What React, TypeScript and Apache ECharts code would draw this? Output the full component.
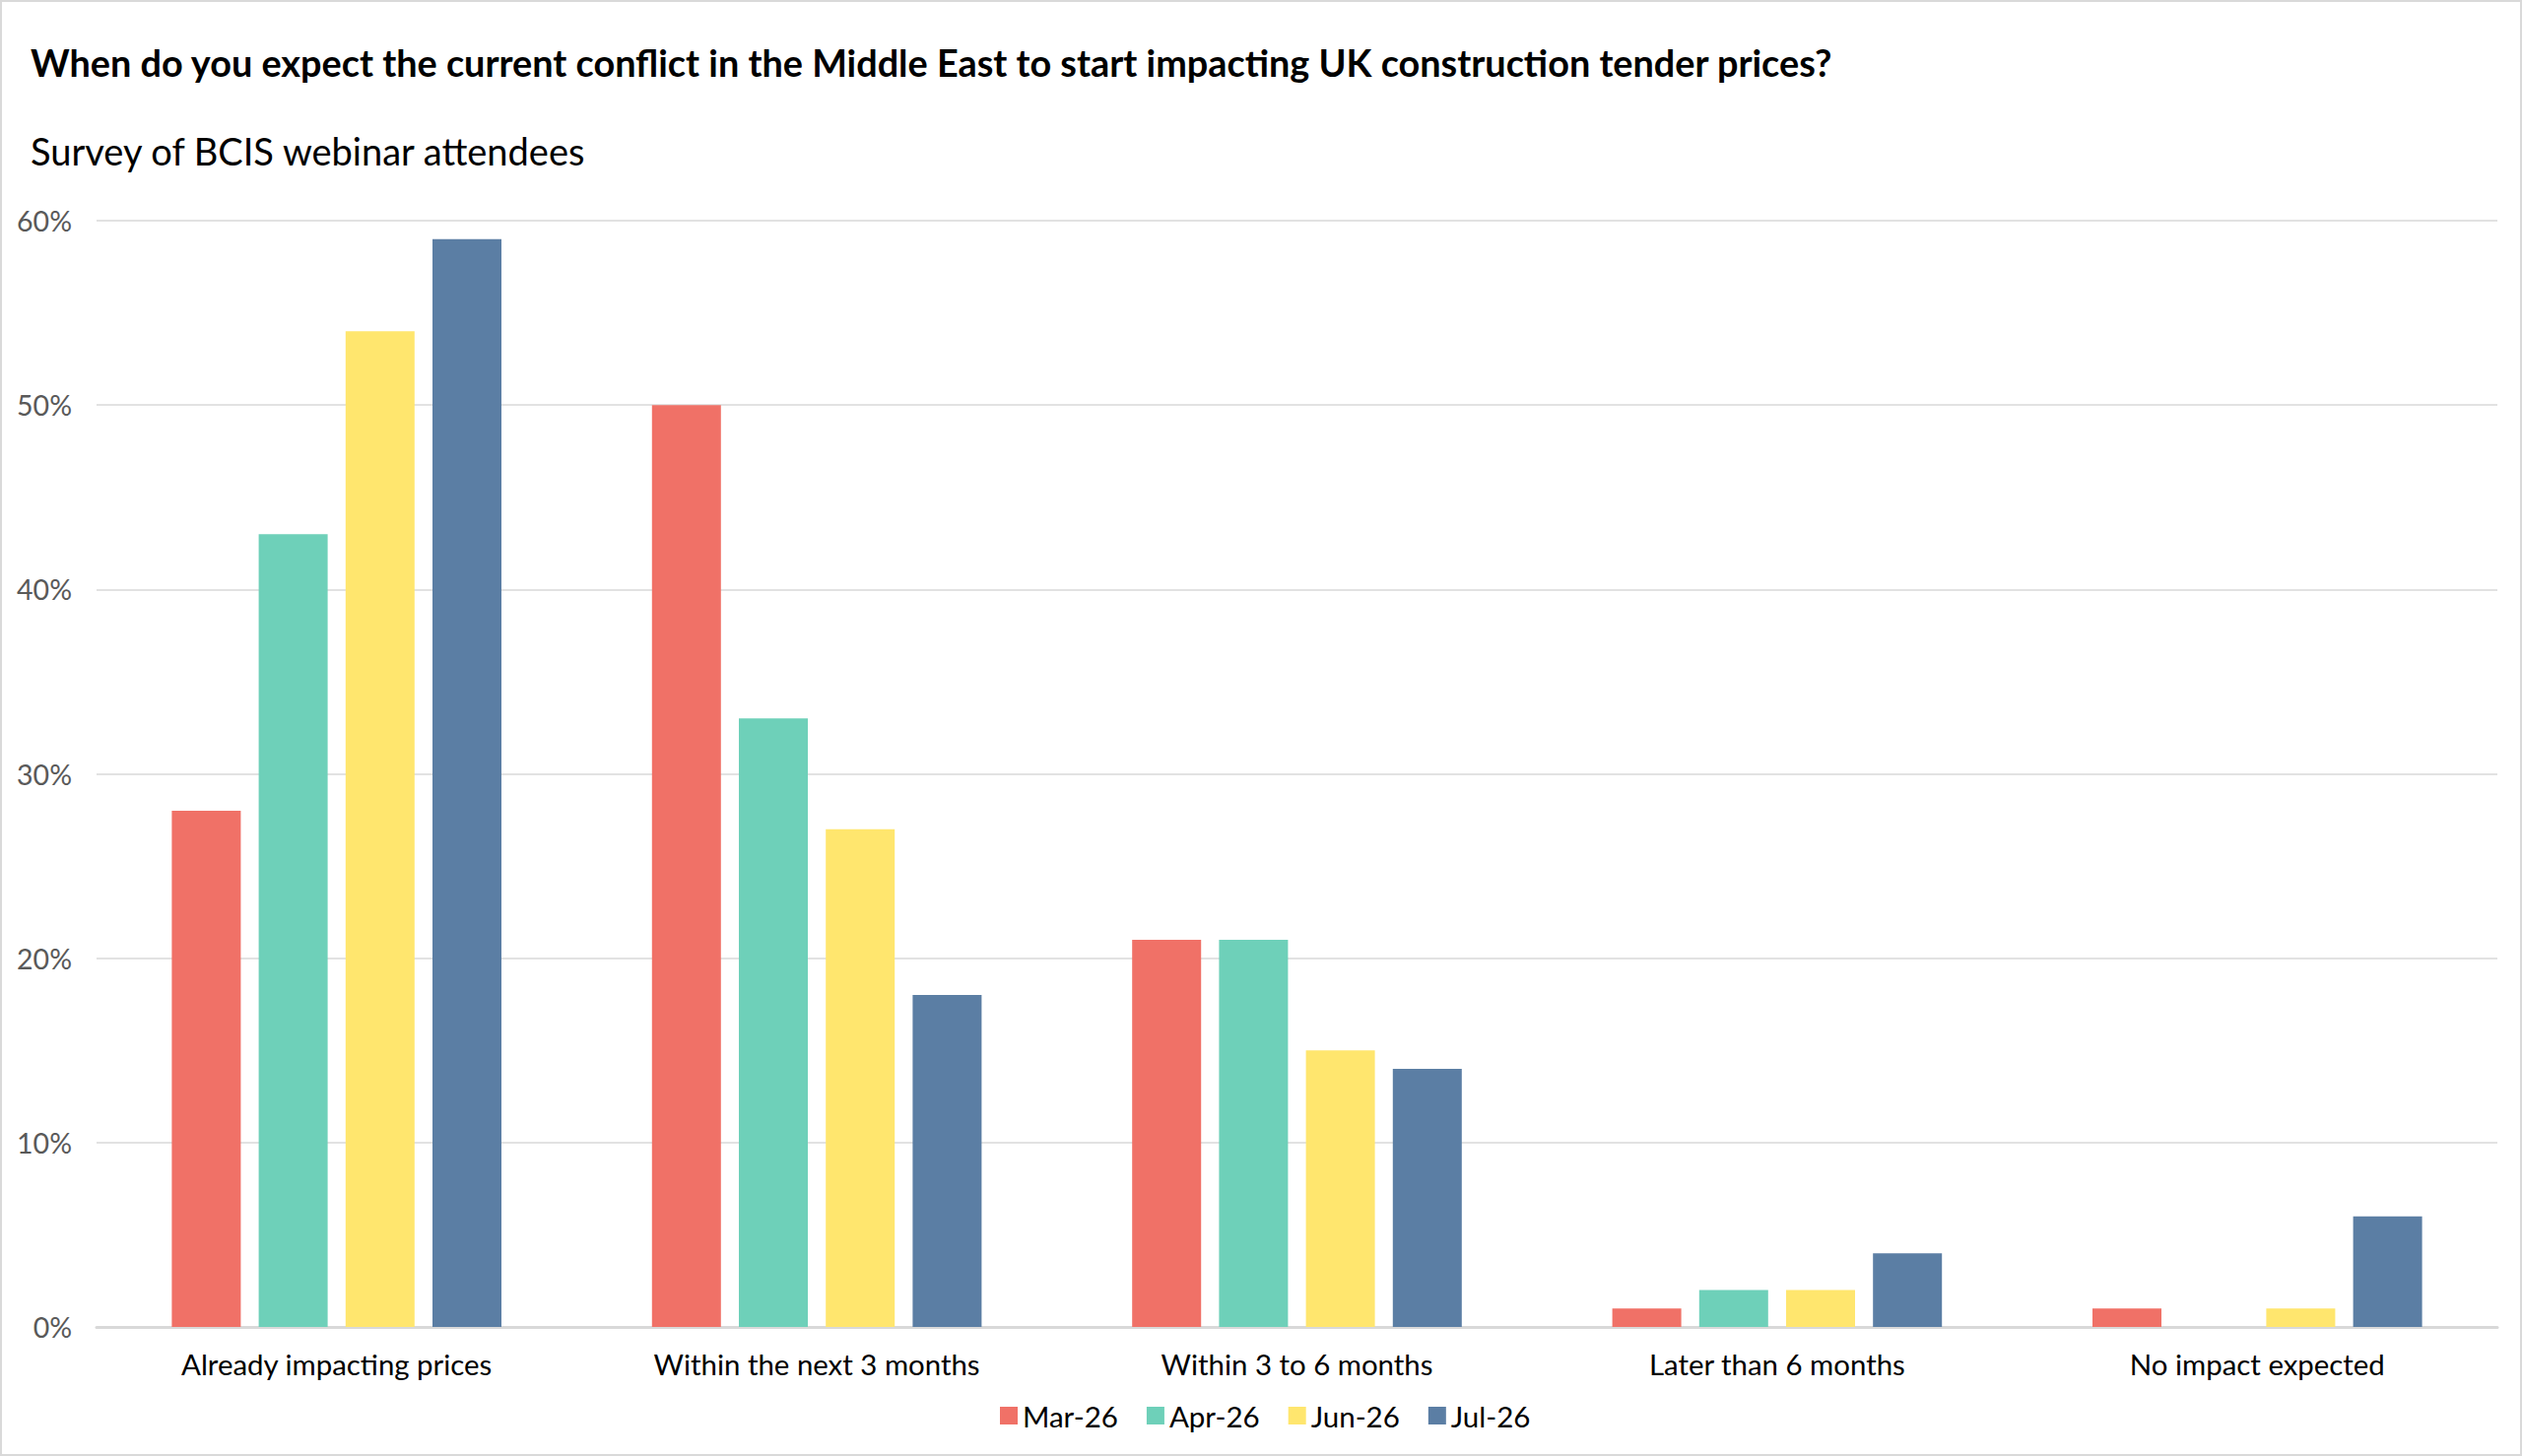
import React, { useEffect, useRef } from "react";
import * as echarts from "echarts";

const categories = [
  "Already impacting prices",
  "Within the next 3 months",
  "Within 3 to 6 months",
  "Later than 6 months",
  "No impact expected",
];
const seriesNames = ["Mar-26", "Apr-26", "Jun-26", "Jul-26"];
const mar26 = [28, 50, 21, 1, 1];
const apr26 = [43, 33, 21, 2, 0];
const jun26 = [54, 27, 15, 2, 1];
const jul26 = [59, 18, 14, 4, 6];
const colors = ["#F07167", "#6ED0B9", "#FFE66E", "#5B7EA4"];
const yTicks = { min: 0, max: 60, interval: 10 };

const titleText =
  "When do you expect the current conflict in the Middle East to start impacting UK construction tender prices?";
const subtitleText = "Survey of BCIS webinar attendees";

export default function App() {
  const ref = useRef<HTMLDivElement>(null);
  useEffect(() => {
    document.body.style.margin = "0";
    if (!ref.current) return;
    const chart = echarts.init(ref.current, null, { renderer: "svg" });
    const values = [mar26, apr26, jun26, jul26];
    const font = "Lato";
    chart.setOption({
      animation: false,
      backgroundColor: "#ffffff",
      graphic: [
        {
          type: "rect",
          shape: { x: 1, y: 1, width: 2558, height: 1476 },
          style: { fill: "none", stroke: "#d9d9d9", lineWidth: 2 },
          silent: true,
        },
        {
          type: "text",
          x: 31,
          y: 63,
          style: {
            text: titleText,
            fontFamily: font,
            fontWeight: "bold",
            fontSize: 37.8,
            fill: "#000000",
            verticalAlign: "middle",
            textVerticalAlign: "middle",
          },
        },
        {
          type: "text",
          x: 31,
          y: 153,
          style: {
            text: subtitleText,
            fontFamily: font,
            fontSize: 38,
            fill: "#000000",
            verticalAlign: "middle",
            textVerticalAlign: "middle",
          },
        },
      ],
      legend: {
        data: seriesNames,
        left: 1010,
        top: 1417,
        icon: "rect",
        itemWidth: 18,
        itemHeight: 18,
        itemGap: 29,
        textStyle: { fontFamily: font, fontSize: 29.5, color: "#000000" },
      },
      grid: { left: 98, right: 25, top: 224, bottom: 131, containLabel: false },
      xAxis: {
        type: "category",
        data: categories,
        axisTick: { show: false },
        axisLine: { show: true, lineStyle: { color: "#d9d9d9", width: 3 } },
        axisLabel: {
          fontFamily: font,
          fontSize: 29.4,
          color: "#000000",
          margin: 23,
        },
      },
      yAxis: {
        type: "value",
        min: yTicks.min,
        max: yTicks.max,
        interval: yTicks.interval,
        axisLine: { show: false },
        axisTick: { show: false },
        splitLine: { lineStyle: { color: "#d9d9d9", width: 1.5 } },
        axisLabel: {
          formatter: "{value}%",
          fontFamily: font,
          fontSize: 28.5,
          color: "#595959",
          margin: 25,
        },
      },
      series: seriesNames.map((name, i) => ({
        name,
        type: "bar",
        data: values[i],
        barWidth: 70,
        barGap: "26%",
        itemStyle: { color: colors[i] },
      })),
    });
    return () => chart.dispose();
  }, []);
  return <div ref={ref} style={{ width: 2560, height: 1478 }} />;
}
